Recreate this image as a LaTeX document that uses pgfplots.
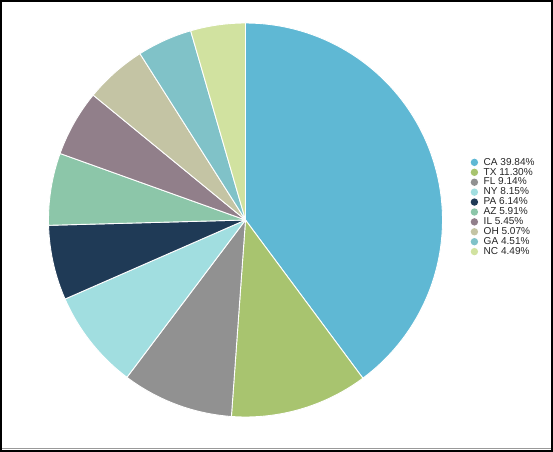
\documentclass[border=0pt]{standalone}
\usepackage{pgfplots}
\pgfplotsset{compat=1.18}
\usepackage{fontspec}
\setmainfont{Liberation Sans}
\definecolor{cCA}{HTML}{5FB8D4}
\definecolor{cTX}{HTML}{A8C46F}
\definecolor{cFL}{HTML}{919191}
\definecolor{cNY}{HTML}{A1DEE0}
\definecolor{cPA}{HTML}{1F3A56}
\definecolor{cAZ}{HTML}{8CC6A9}
\definecolor{cIL}{HTML}{917F8A}
\definecolor{cOH}{HTML}{C4C4A4}
\definecolor{cGA}{HTML}{80C2C8}
\definecolor{cNC}{HTML}{D1E2A0}
% slice: start percent, end percent (cumulative), colour
\newcommand{\slice}[3]{%
  \addplot[forget plot, fill=#3, draw=white, line width=0.9bp, line join=round,
    domain=#1:#2, samples=80, variable=\t]
    ({245.5+197*cos(90-3.6*\t)},{232+197*sin(90-3.6*\t)}) -- (axis cs:245.5,232) -- cycle;}
\begin{document}
\begin{tikzpicture}
\useasboundingbox (0,0) rectangle (553bp,452bp);
\begin{axis}[
  at={(0,0)}, anchor=south west,
  scale only axis, width=553bp, height=452bp,
  xmin=0, xmax=553, ymin=0, ymax=452,
  hide axis, clip=false,
  legend style={at={(axis cs:470,245)}, anchor=west, draw=none, fill=none,
    font=\fontsize{10.1}{10}\selectfont, text=black!85, row sep=-1.8bp,
    inner sep=0pt, nodes={inner sep=1.6bp}},
  legend cell align=left,
  legend image code/.code={\fill[#1, draw=none] (0bp,0bp) circle (3.7bp); \path (-4bp,0bp) (7.5bp,0bp);},
]
% data (percent of total)
% CA 39.84, TX 11.30, FL 9.14, NY 8.15, PA 6.14, AZ 5.91, IL 5.45, OH 5.07, GA 4.51, NC 4.49
\slice{0}{39.84}{cCA}
\slice{39.84}{51.14}{cTX}
\slice{51.14}{60.28}{cFL}
\slice{60.28}{68.43}{cNY}
\slice{68.43}{74.57}{cPA}
\slice{74.57}{80.48}{cAZ}
\slice{80.48}{85.93}{cIL}
\slice{85.93}{91.00}{cOH}
\slice{91.00}{95.51}{cGA}
\slice{95.51}{100}{cNC}
\addlegendimage{color=cCA}\addlegendentry{CA 39.84\%}
\addlegendimage{color=cTX}\addlegendentry{TX 11.30\%}
\addlegendimage{color=cFL}\addlegendentry{FL 9.14\%}
\addlegendimage{color=cNY}\addlegendentry{NY 8.15\%}
\addlegendimage{color=cPA}\addlegendentry{PA 6.14\%}
\addlegendimage{color=cAZ}\addlegendentry{AZ 5.91\%}
\addlegendimage{color=cIL}\addlegendentry{IL 5.45\%}
\addlegendimage{color=cOH}\addlegendentry{OH 5.07\%}
\addlegendimage{color=cGA}\addlegendentry{GA 4.51\%}
\addlegendimage{color=cNC}\addlegendentry{NC 4.49\%}
\end{axis}
\draw[black, line width=2bp] (1bp,1bp) rectangle (552bp,451bp);
\draw[gray!80, line width=1.5bp] (2bp,3.5bp) -- (551bp,3.5bp);
\end{tikzpicture}
\end{document}
